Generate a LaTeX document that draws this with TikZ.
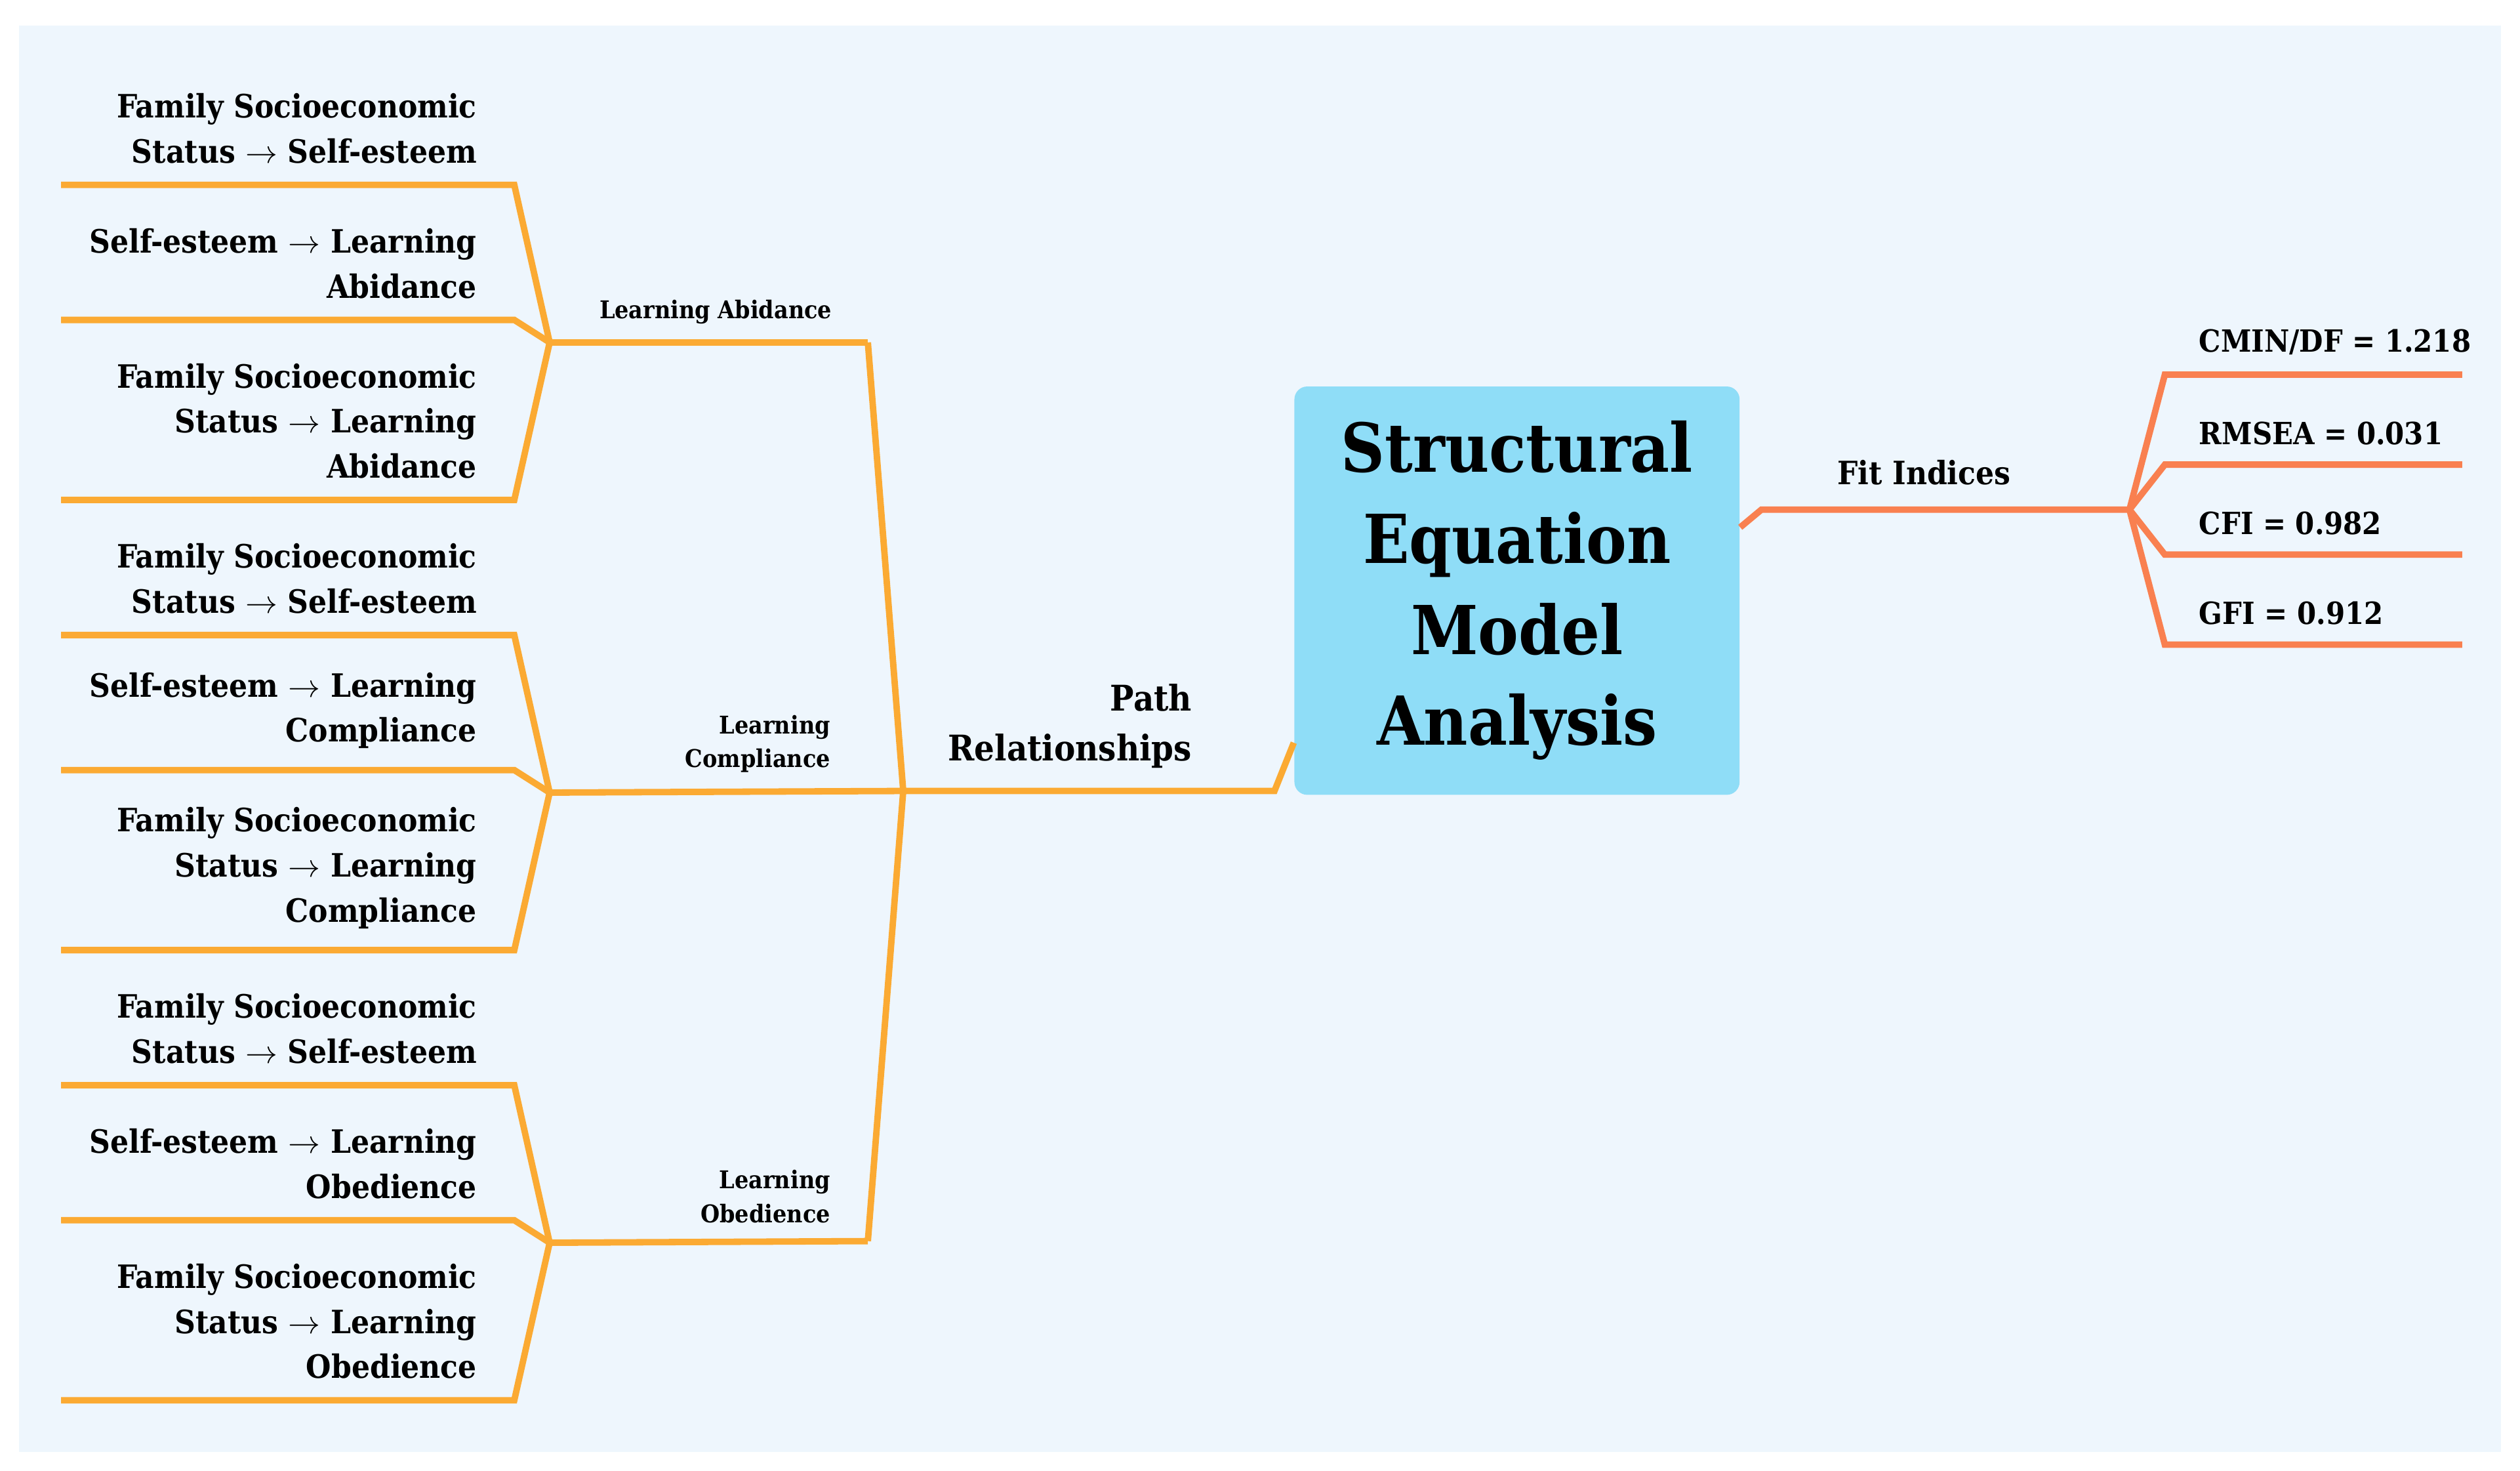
\documentclass[tikz,border=0pt]{standalone}
\usepackage{fontspec}
\setmainfont{DejaVu Serif Condensed}[BoldFont={DejaVu Serif Condensed Bold}]
\definecolor{bgp}{HTML}{EEF6FD}
\definecolor{boxc}{HTML}{8FDDF7}
\definecolor{yel}{HTML}{FBAA33}
\definecolor{ora}{HTML}{F98050}
\begin{document}
\begin{tikzpicture}[x=0.5pt,y=-0.5pt,
  yl/.style={draw=yel,line width=2pt,line join=miter},
  ol/.style={draw=ora,line width=2pt,line join=miter},
  leaf/.style={font=\fontsize{10}{14}\selectfont\bfseries,align=right,anchor=south east,inner sep=0pt},
  sub/.style={font=\fontsize{7.6}{10.5}\selectfont\bfseries,align=right,anchor=south east,inner sep=0pt},
  fit/.style={font=\fontsize{9.5}{12}\selectfont\bfseries,anchor=south west,inner sep=0pt}]
\useasboundingbox (0,0) rectangle (1568,915);
\fill[white] (0,0) rectangle (1568,915);
\fill[bgp] (12,16) rectangle (1556,903);
\node[fill=boxc,rounded corners=4pt,minimum width=138.5pt,minimum height=127pt,anchor=north west,inner sep=0pt,
  font=\fontsize{21}{28.3}\selectfont\bfseries,align=center] (root) at (805,240) {Structural\\Equation\\Model\\Analysis};
% Path relationships
\coordinate (pr) at (562,492);
\draw[yl] (root.west |- 0,462) -- (793,492) -- (pr);
\node[font=\fontsize{11}{15.5}\selectfont\bfseries,align=right,anchor=south east,inner sep=0pt] (prl) at (742,478) {Path\\Relationships};
\foreach \g/\dy/\lab in {a/0/{Learning Abidance},b/280/{Learning\\Compliance},c/560/{Learning\\Obedience}}{
  \coordinate (h\g) at (342,213+\dy);
}
\coordinate (ta) at (540,213); \coordinate (tc) at (540,772);
\draw[yl] (ta) -- (pr) -- (tc);
\draw[yl] (ta) -- (ha); \draw[yl] (pr) -- (hb); \draw[yl] (tc) -- (hc);
\node[sub] (la) at (518,202) {Learning Abidance};
\node[sub] (lb) at (517,481) {Learning\\Compliance};
\node[sub] (lc) at (517,761) {Learning\\Obedience};
\foreach \g/\dy/\t in {a/0/Abidance,b/280/Compliance,c/560/Obedience}{
  \coordinate (l1\g) at (38,115+\dy); \coordinate (l2\g) at (38,199+\dy); \coordinate (l3\g) at (38,311+\dy);
  \draw[yl] (h\g) -- (320,115+\dy) -- (l1\g);
  \draw[yl] (h\g) -- (320,199+\dy) -- (l2\g);
  \draw[yl] (h\g) -- (320,311+\dy) -- (l3\g);
  \node[leaf] (t1\g) at (297,102+\dy) {Family Socioeconomic\\Status $\rightarrow$ Self-esteem};
  \node[leaf] (t2\g) at (297,186+\dy) {Self-esteem $\rightarrow$ Learning\\\t};
  \node[leaf] (t3\g) at (297,298+\dy) {Family Socioeconomic\\Status $\rightarrow$ Learning\\\t};
}
% Fit indices
\coordinate (fh) at (1325,317);
\draw[ol] (root.east |- 0,328) -- (1096,317) -- (fh);
\node[fit,font=\fontsize{10}{12}\selectfont\bfseries] (fl) at (1143,302) {Fit Indices};
\foreach \i/\y/\t in {1/233/{CMIN/DF = 1.218},2/289/{RMSEA = 0.031},3/345/{CFI = 0.982},4/401/{GFI = 0.912}}{
  \coordinate (f\i) at (1532,\y);
  \draw[ol] (fh) -- (1347,\y) -- (f\i);
  \node[fit] (ft\i) at (1368,\y-12) {\t};
}
\end{tikzpicture}
\end{document}
